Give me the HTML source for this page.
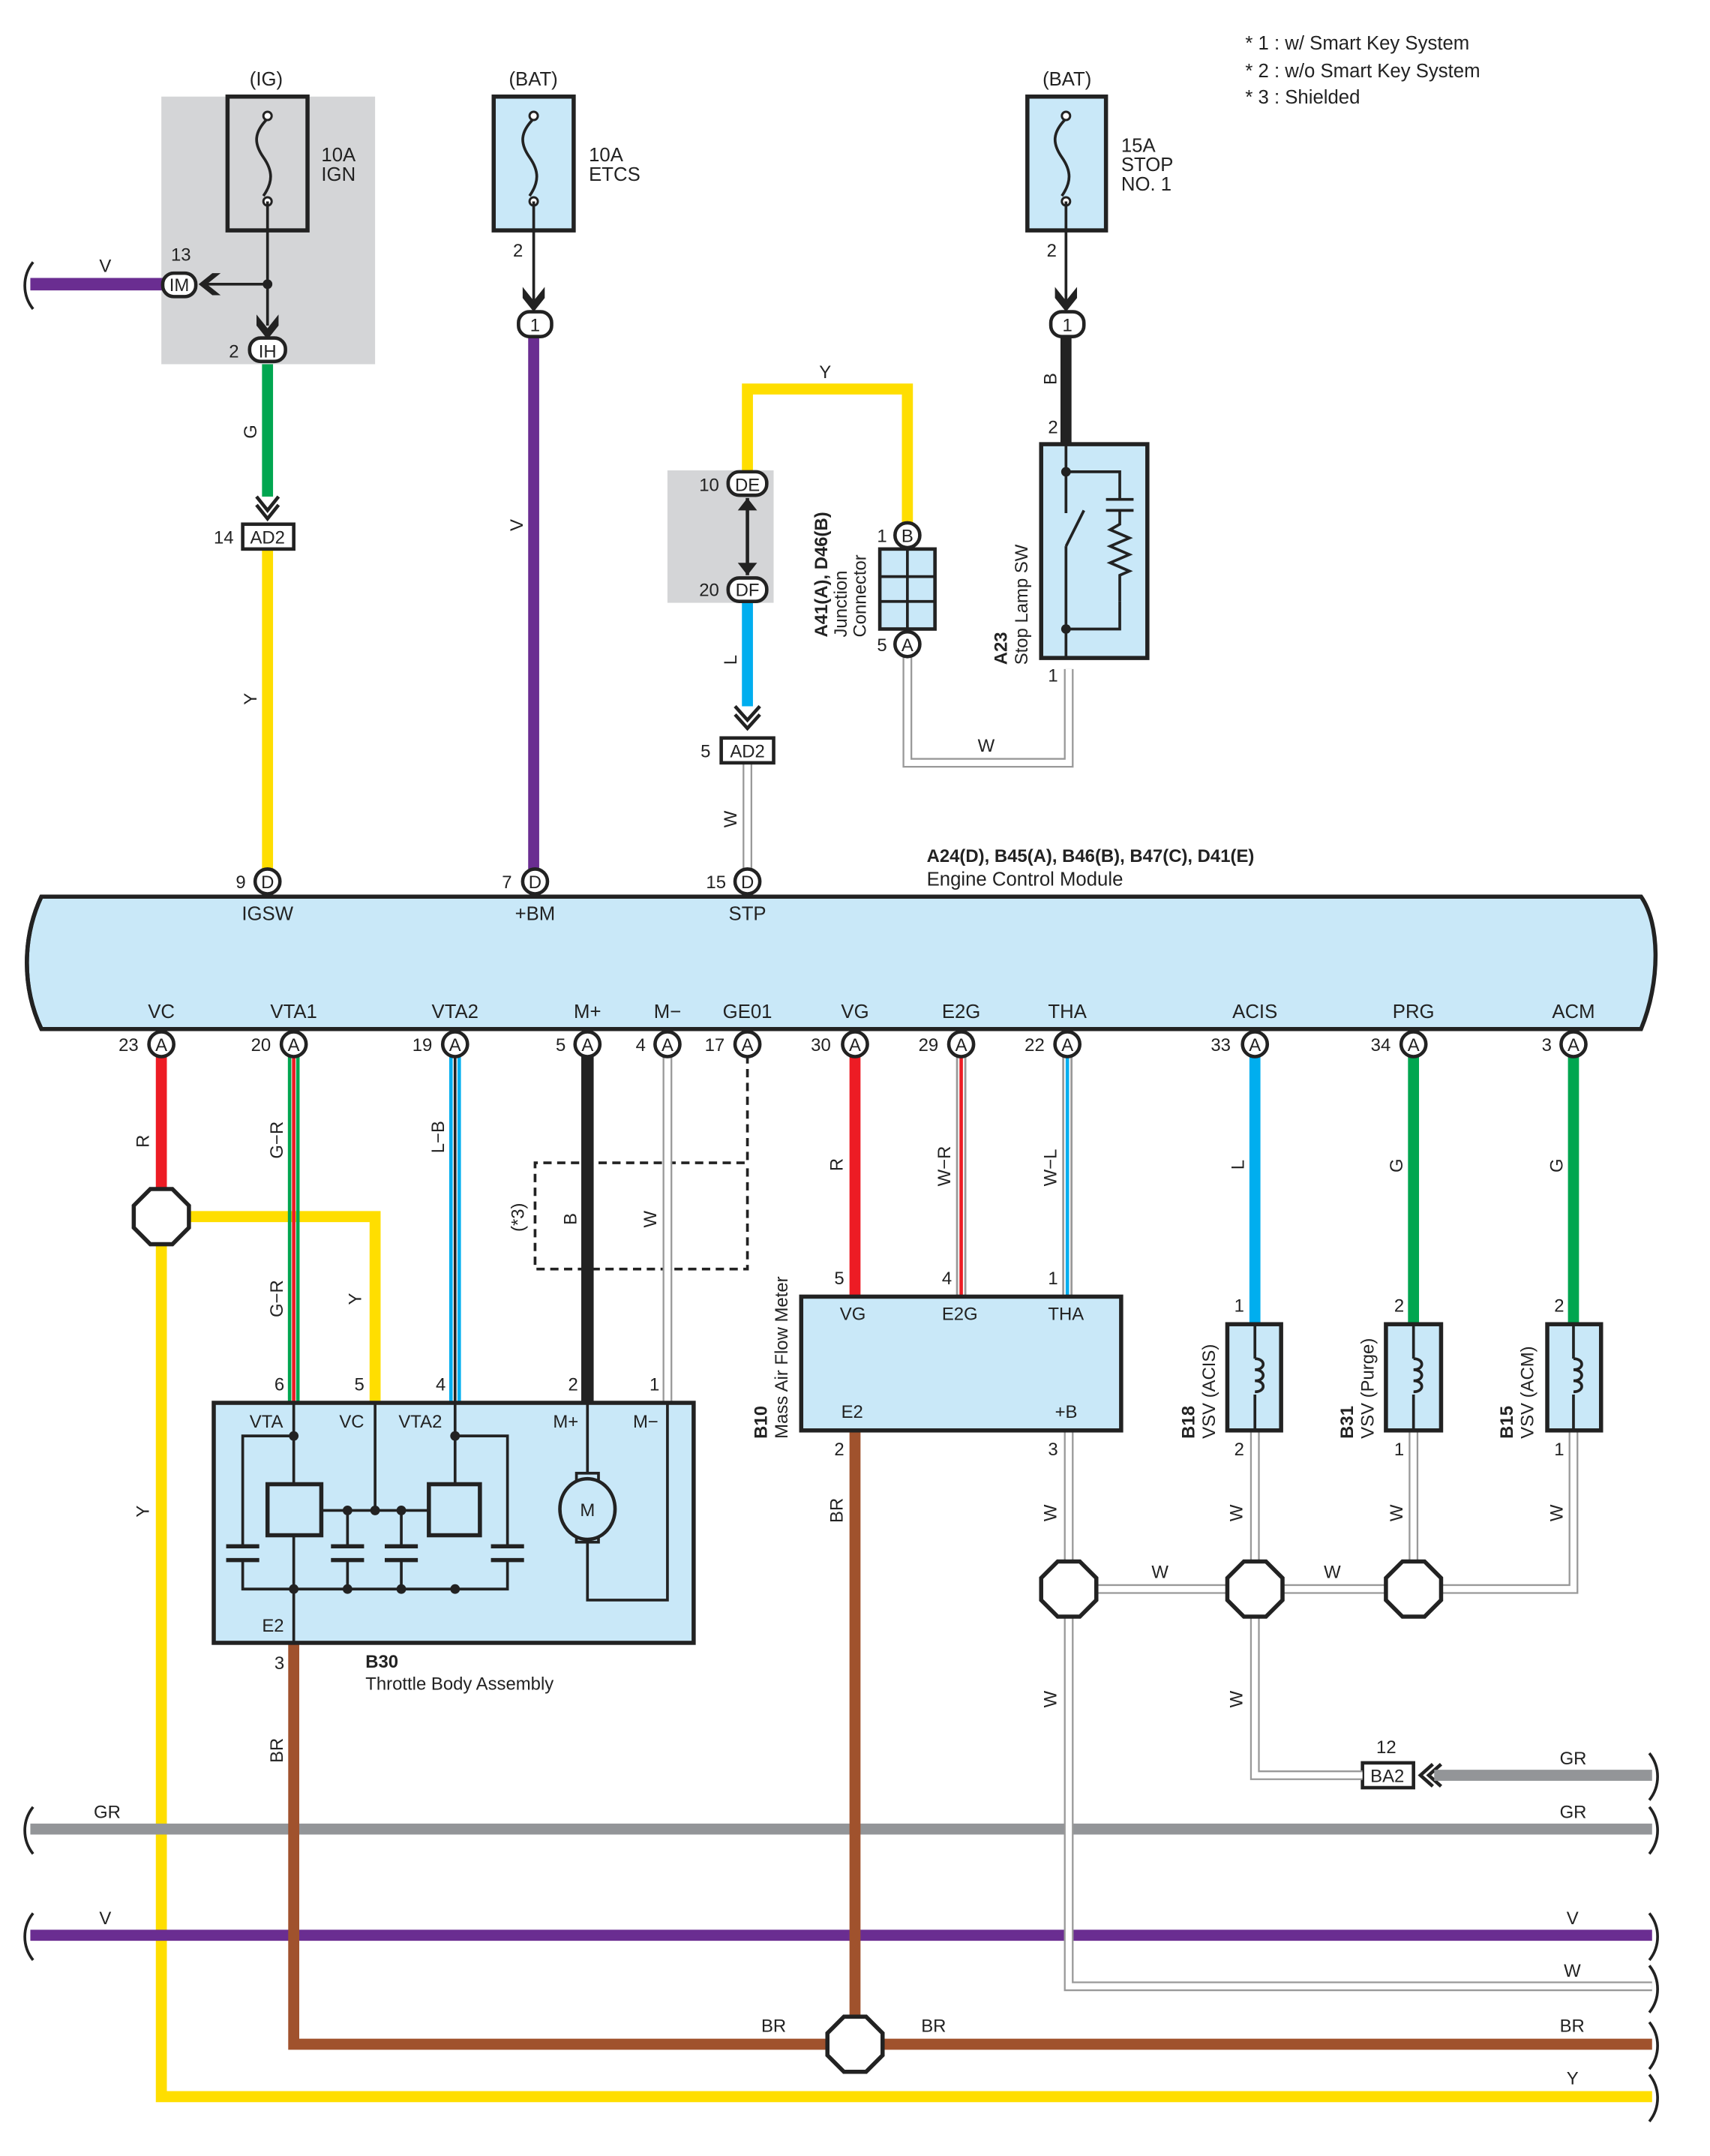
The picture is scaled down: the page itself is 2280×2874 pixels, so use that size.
<!DOCTYPE html>
<html><head><meta charset="utf-8"><style>
html,body{margin:0;padding:0;background:#fff}
svg{display:block}
text{font-family:"Liberation Sans",sans-serif;fill:#222}
</style></head><body>
<svg width="2280" height="2874" viewBox="0 0 1240 1563" xmlns="http://www.w3.org/2000/svg">
<defs>
<g id="fuse"><path d="M0,-30 c-10,10 -10,18 -3,28 c7,10 7,18 0,28" fill="none" stroke="#222" stroke-width="2"/><circle cx="0" cy="-32" r="3" fill="#fff" stroke="#222" stroke-width="1.6"/><circle cx="0" cy="30" r="3" fill="#fff" stroke="#222" stroke-width="1.6"/></g>
</defs>
<!-- grey shaded -->
<rect x="117" y="70" width="155" height="194" fill="#d4d5d7"/>
<rect x="484" y="341" width="77" height="96" fill="#d4d5d7"/>
<!-- fuses -->
<rect x="165" y="70" width="58" height="97" fill="none" stroke="#222" stroke-width="3"/>
<use href="#fuse" x="194" y="116"/>
<rect x="358" y="70" width="58" height="97" fill="#c9e8f8" stroke="#222" stroke-width="3"/>
<use href="#fuse" x="387" y="116"/>
<rect x="745" y="70" width="57" height="97" fill="#c9e8f8" stroke="#222" stroke-width="3"/>
<use href="#fuse" x="773" y="116"/>
<g font-size="14">
<text x="181" y="62">(IG)</text><text x="369" y="62">(BAT)</text><text x="756" y="62">(BAT)</text>
<text x="233" y="117">10A</text><text x="233" y="131">IGN</text>
<text x="427" y="117">10A</text><text x="427" y="131">ETCS</text>
<text x="813" y="110">15A</text><text x="813" y="124">STOP</text><text x="813" y="138">NO. 1</text>
<text x="903" y="36">* 1 : w/ Smart Key System</text>
<text x="903" y="56">* 2 : w/o Smart Key System</text>
<text x="903" y="75">* 3 : Shielded</text>
</g>
<!-- thin black lines -->
<g stroke="#222" stroke-width="2" fill="none">
<line x1="194" y1="146" x2="194" y2="236"/>
<line x1="150" y1="206" x2="194" y2="206"/>
<line x1="387" y1="146" x2="387" y2="218"/>
<line x1="773" y1="146" x2="773" y2="218"/>
</g>
<circle cx="194" cy="206" r="3.5" fill="#222"/>
<!-- arrows -->
<g fill="#222">
<path d="M186,228 l8,10 l8,-10 l0,8 l-8,10 l-8,-10z"/>
<path d="M379,208 l8,10 l8,-10 l0,8 l-8,10 l-8,-10z"/>
<path d="M765,208 l8,10 l8,-10 l0,8 l-8,10 l-8,-10z"/>
<path d="M160,198 l-10,8 l10,8 l-6,0 l-10,-8 l10,-8z"/>
</g>
<g fill="none" stroke="#222" stroke-width="2.5">
<path d="M186,360 l8,10 l8,-10 M186,366 l8,10 l8,-10"/>
<path d="M533,512 l9,10 l9,-10 M533,518 l9,10 l9,-10"/>
<path d="M1045,1279 l-9,8 l9,8 M1039,1279 l-9,8 l9,8"/>
</g>
<!-- colored wires -->
<g fill="none" stroke-linecap="butt">
<line x1="22" y1="206" x2="120" y2="206" stroke="#6a2d91" stroke-width="9"/>
<line x1="194" y1="264" x2="194" y2="360" stroke="#00a650" stroke-width="8"/>
<line x1="194" y1="398" x2="194" y2="630" stroke="#ffde00" stroke-width="8"/>
<line x1="387" y1="245" x2="387" y2="630" stroke="#6a2d91" stroke-width="8"/>
<path d="M542,341 V282 H658 V380" stroke="#ffde00" stroke-width="8"/>
<line x1="542" y1="437" x2="542" y2="512" stroke="#00aeef" stroke-width="8"/>
<line x1="773" y1="245" x2="773" y2="322" stroke="#222" stroke-width="8"/>
<line x1="542" y1="361" x2="542" y2="417" stroke="#222" stroke-width="2.5"/>
</g>
<path d="M535,370 l7,-9 l7,9z M535,408 l7,9 l7,-9z" fill="#222"/>
<!-- W wires top -->
<g fill="none">
<path d="M658,475 V553 H775 V485" stroke="#999" stroke-width="7"/>
<path d="M658,475 V553 H775 V485" stroke="#fff" stroke-width="4.5"/>
<path d="M542,553 V630" stroke="#999" stroke-width="7"/>
<path d="M542,553 V630" stroke="#fff" stroke-width="4.5"/>
</g>
<!-- junction connector -->
<rect x="638" y="398" width="40" height="58" fill="#c9e8f8" stroke="#222" stroke-width="2.5"/>
<g stroke="#222" stroke-width="2"><line x1="658" y1="398" x2="658" y2="456"/><line x1="638" y1="418" x2="678" y2="418"/><line x1="638" y1="436" x2="678" y2="436"/></g>
<!-- stop lamp sw -->
<rect x="755" y="322" width="77" height="155" fill="#c9e8f8" stroke="#222" stroke-width="3"/>
<g stroke="#222" stroke-width="2" fill="none">
<path d="M773,322 V372 M773,396 V477 M773,342 H812 V362 M773,456 H812 V436"/>
<line x1="773" y1="396" x2="786" y2="370"/>
<line x1="802" y1="362" x2="822" y2="362"/><line x1="802" y1="370" x2="822" y2="370"/>
<path d="M812,370 V380 l-7,4 l14,6 l-14,6 l14,6 l-14,6 l14,6 l-7,3 V436"/>
</g>
<circle cx="773" cy="342" r="3.5" fill="#222"/><circle cx="773" cy="456" r="3.5" fill="#222"/>
<!-- AD2 boxes -->
<rect x="176" y="380" width="37" height="18" fill="#fff" stroke="#222" stroke-width="2.5"/>
<rect x="523" y="535" width="38" height="18" fill="#fff" stroke="#222" stroke-width="2.5"/>
<rect x="988" y="1278" width="37" height="18" fill="#fff" stroke="#222" stroke-width="2.5"/>
<!-- ECM band -->
<path d="M30,650 H1190 c14,20 14,62 0,96 H30 c-14,-30 -14,-66 0,-96z" fill="#c9e8f8" stroke="#222" stroke-width="3"/>
<path d="M30,650 c-14,30 -14,66 0,96" fill="none" stroke="#222" stroke-width="3"/>
<g font-size="14">
<text x="672" y="625" font-weight="bold" font-size="13">A24(D), B45(A), B46(B), B47(C), D41(E)</text>
<text x="672" y="642">Engine Control Module</text>
<text x="194" y="667" text-anchor="middle">IGSW</text><text x="388" y="667" text-anchor="middle">+BM</text><text x="542" y="667" text-anchor="middle">STP</text>
<g text-anchor="middle">
<text x="117" y="738">VC</text><text x="213" y="738">VTA1</text><text x="330" y="738">VTA2</text><text x="426" y="738">M+</text><text x="484" y="738">M−</text><text x="542" y="738">GE01</text><text x="620" y="738">VG</text><text x="697" y="738">E2G</text><text x="774" y="738">THA</text><text x="910" y="738">ACIS</text><text x="1025" y="738">PRG</text><text x="1141" y="738">ACM</text>
</g>
</g>
<!-- lower wires -->
<g fill="none">
<line x1="117" y1="765" x2="117" y2="862" stroke="#ed1c24" stroke-width="8"/>
<path d="M137,882 H272 V1017" stroke="#ffde00" stroke-width="8"/>
<path d="M117,902 V1520 H1198" stroke="#ffde00" stroke-width="8"/>
<line x1="210" y1="765" x2="210" y2="1017" stroke="#00a650" stroke-width="2.5"/>
<line x1="216" y1="765" x2="216" y2="1017" stroke="#00a650" stroke-width="2.5"/>
<line x1="213" y1="765" x2="213" y2="1017" stroke="#ed1c24" stroke-width="2.5"/>
<line x1="327" y1="765" x2="327" y2="1017" stroke="#00aeef" stroke-width="2.5"/>
<line x1="333" y1="765" x2="333" y2="1017" stroke="#00aeef" stroke-width="2.5"/>
<line x1="330" y1="765" x2="330" y2="1017" stroke="#222" stroke-width="2"/>
<line x1="426" y1="765" x2="426" y2="1017" stroke="#222" stroke-width="9"/>
<line x1="620" y1="765" x2="620" y2="940" stroke="#ed1c24" stroke-width="8"/>
<line x1="694" y1="765" x2="694" y2="940" stroke="#999" stroke-width="1.5"/>
<line x1="700" y1="765" x2="700" y2="940" stroke="#999" stroke-width="1.5"/>
<line x1="697" y1="765" x2="697" y2="940" stroke="#ed1c24" stroke-width="2.5"/>
<line x1="771" y1="765" x2="771" y2="940" stroke="#999" stroke-width="1.5"/>
<line x1="777" y1="765" x2="777" y2="940" stroke="#999" stroke-width="1.5"/>
<line x1="774" y1="765" x2="774" y2="940" stroke="#00aeef" stroke-width="2.5"/>
<line x1="910" y1="765" x2="910" y2="960" stroke="#00aeef" stroke-width="8"/>
<line x1="1025" y1="765" x2="1025" y2="960" stroke="#00a650" stroke-width="8"/>
<line x1="1141" y1="765" x2="1141" y2="960" stroke="#00a650" stroke-width="8"/>
<path d="M542,765 V843 H388 V920 H542 V843" stroke="#222" stroke-width="2" stroke-dasharray="6,4"/>
<!-- buses -->
<line x1="22" y1="1326" x2="1198" y2="1326" stroke="#939598" stroke-width="8"/>
<line x1="1040" y1="1287" x2="1198" y2="1287" stroke="#939598" stroke-width="8"/>
<line x1="22" y1="1403" x2="1198" y2="1403" stroke="#6a2d91" stroke-width="8"/>
<path d="M213,1191 V1482 H1198" stroke="#a0522d" stroke-width="8"/>
<line x1="620" y1="1037" x2="620" y2="1462" stroke="#a0522d" stroke-width="8"/>
</g>
<!-- W double wires lower -->
<g fill="none" stroke="#999" stroke-width="7">
<path d="M484,765 V1017"/>
<path d="M775,1037 V1440 H1198"/>
<path d="M795,1152 H890 M930,1152 H1005 M1045,1152 H1141 V1037"/>
<path d="M910,1037 V1132 M910,1172 V1287 H988"/>
<path d="M1025,1037 V1132"/>
</g>
<g fill="none" stroke="#fff" stroke-width="4.5">
<path d="M484,765 V1017"/>
<path d="M775,1037 V1440 H1198"/>
<path d="M795,1152 H890 M930,1152 H1005 M1045,1152 H1141 V1037"/>
<path d="M910,1037 V1132 M910,1172 V1287 H988"/>
<path d="M1025,1037 V1132"/>
</g>
<!-- splices -->
<g fill="#fff" stroke="#222" stroke-width="3">
<polygon points="109,862 125,862 137,874 137,890 125,902 109,902 97,890 97,874"/>
<polygon points="612,1462 628,1462 640,1474 640,1490 628,1502 612,1502 600,1490 600,1474"/>
<polygon points="767,1132 783,1132 795,1144 795,1160 783,1172 767,1172 755,1160 755,1144"/>
<polygon points="902,1132 918,1132 930,1144 930,1160 918,1172 902,1172 890,1160 890,1144"/>
<polygon points="1017,1132 1033,1132 1045,1144 1045,1160 1033,1172 1017,1172 1005,1160 1005,1144"/>
</g>
<!-- B30 -->
<rect x="155" y="1017" width="348" height="174" fill="#c9e8f8" stroke="#222" stroke-width="3"/>
<g stroke="#222" stroke-width="2" fill="none">
<path d="M213,1017 V1191 M272,1017 V1095 M330,1017 V1095"/>
<path d="M213,1041 H176 V1152 H368 V1041 H330"/>
<path d="M233,1095 H311"/>
<path d="M252,1095 V1152 M291,1095 V1152"/>
<path d="M426,1017 V1160 H484 V1017"/>
</g>
<g fill="#c9e8f8" stroke="#222" stroke-width="3">
<rect x="194" y="1076" width="39" height="37"/><rect x="311" y="1076" width="37" height="37"/>
</g>
<g stroke="#c9e8f8" stroke-width="10">
<line x1="176" y1="1122" x2="176" y2="1130"/><line x1="252" y1="1122" x2="252" y2="1130"/><line x1="291" y1="1122" x2="291" y2="1130"/><line x1="368" y1="1122" x2="368" y2="1130"/>
</g>
<g stroke="#222" stroke-width="3">
<path d="M164,1121 H188 M164,1131 H188 M240,1121 H264 M240,1131 H264 M279,1121 H303 M279,1131 H303 M356,1121 H380 M356,1131 H380"/>
</g>
<g fill="#222"><circle cx="213" cy="1041" r="3.5"/><circle cx="330" cy="1041" r="3.5"/><circle cx="252" cy="1095" r="3.5"/><circle cx="272" cy="1095" r="3.5"/><circle cx="291" cy="1095" r="3.5"/><circle cx="213" cy="1152" r="3.5"/><circle cx="252" cy="1152" r="3.5"/><circle cx="291" cy="1152" r="3.5"/><circle cx="330" cy="1152" r="3.5"/></g>
<rect x="418" y="1068" width="16" height="50" fill="#c9e8f8" stroke="#222" stroke-width="2"/>
<ellipse cx="426" cy="1094" rx="20" ry="22" fill="#c9e8f8" stroke="#222" stroke-width="2.5"/>
<!-- MAF -->
<rect x="581" y="940" width="232" height="97" fill="#c9e8f8" stroke="#222" stroke-width="3"/>
<!-- VSVs -->
<g fill="#c9e8f8" stroke="#222" stroke-width="3">
<rect x="890" y="960" width="39" height="77"/><rect x="1005" y="960" width="40" height="77"/><rect x="1122" y="960" width="39" height="77"/>
</g>
<g stroke="#222" stroke-width="2" fill="none">
<path d="M910,960 V985 M910,1011 V1037 M1025,960 V985 M1025,1011 V1037 M1141,960 V985 M1141,1011 V1037"/>
<path d="M910,985 c8,0 8,8 0,8 c8,0 8,8 0,8 c8,0 8,8 0,8"/>
<path d="M1025,985 c8,0 8,8 0,8 c8,0 8,8 0,8 c8,0 8,8 0,8"/>
<path d="M1141,985 c8,0 8,8 0,8 c8,0 8,8 0,8 c8,0 8,8 0,8"/>
</g>
<!-- connectors -->
<g fill="#fff" stroke="#222" stroke-width="2.5">
<rect x="118" y="198" width="24" height="17" rx="8"/>
<rect x="181" y="245" width="26" height="17" rx="8"/>
<rect x="376" y="226" width="24" height="18" rx="8"/>
<rect x="762" y="226" width="24" height="18" rx="8"/>
<rect x="528" y="342" width="28" height="17" rx="8"/>
<rect x="528" y="419" width="28" height="17" rx="8"/>
<circle cx="658" cy="388" r="9"/><circle cx="658" cy="467" r="9"/>
<circle cx="194" cy="639" r="9"/><circle cx="388" cy="639" r="9"/><circle cx="542" cy="639" r="9"/>
<circle cx="117" cy="757" r="9"/><circle cx="213" cy="757" r="9"/><circle cx="330" cy="757" r="9"/><circle cx="426" cy="757" r="9"/><circle cx="484" cy="757" r="9"/><circle cx="542" cy="757" r="9"/><circle cx="620" cy="757" r="9"/><circle cx="697" cy="757" r="9"/><circle cx="774" cy="757" r="9"/><circle cx="910" cy="757" r="9"/><circle cx="1025" cy="757" r="9"/><circle cx="1141" cy="757" r="9"/>
</g>
<!-- wavy ends -->
<g fill="none" stroke="#222" stroke-width="2">
<path d="M24,190 c-8,10 -8,24 0,34"/>
<path d="M24,1310 c-8,10 -8,24 0,34"/><path d="M24,1387 c-8,10 -8,24 0,34"/>
<path d="M1196,1271 c8,10 8,24 0,34"/><path d="M1196,1310 c8,10 8,24 0,34"/><path d="M1196,1387 c8,10 8,24 0,34"/><path d="M1196,1425 c8,10 8,24 0,34"/><path d="M1196,1466 c8,10 8,24 0,34"/><path d="M1196,1504 c8,10 8,24 0,34"/>
</g>
<g font-size="13" text-anchor="middle">
<text x="130" y="211">IM</text><text x="194" y="259">IH</text><text x="388" y="240">1</text><text x="774" y="240">1</text>
<text x="542" y="356">DE</text><text x="542" y="432">DF</text>
<text x="658" y="393">B</text><text x="658" y="472">A</text>
<text x="194" y="644">D</text><text x="388" y="644">D</text><text x="542" y="644">D</text>
<text x="117" y="762">A</text><text x="213" y="762">A</text><text x="330" y="762">A</text><text x="426" y="762">A</text><text x="484" y="762">A</text><text x="542" y="762">A</text><text x="620" y="762">A</text><text x="697" y="762">A</text><text x="774" y="762">A</text><text x="910" y="762">A</text><text x="1025" y="762">A</text><text x="1141" y="762">A</text>
<text x="194" y="394">AD2</text><text x="542" y="549">AD2</text><text x="1006" y="1292">BA2</text>
<text x="426" y="1099">M</text>
</g>
<g font-size="13">
<text x="72" y="197">V</text><text x="124" y="189">13</text><text x="166" y="259">2</text>
<text x="372" y="186">2</text><text x="759" y="186">2</text>
<text x="155" y="394">14</text><text x="508" y="549">5</text>
<text x="507" y="356">10</text><text x="507" y="432">20</text>
<text x="636" y="393">1</text><text x="636" y="472">5</text>
<text x="760" y="314">2</text><text x="760" y="494">1</text>
<text x="594" y="274">Y</text><text x="709" y="545">W</text>
<text x="171" y="644">9</text><text x="364" y="644">7</text><text x="512" y="644">15</text>
<text x="86" y="762">23</text><text x="182" y="762">20</text><text x="299" y="762">19</text><text x="403" y="762">5</text><text x="461" y="762">4</text><text x="511" y="762">17</text><text x="588" y="762">30</text><text x="666" y="762">29</text><text x="743" y="762">22</text><text x="878" y="762">33</text><text x="994" y="762">34</text><text x="1118" y="762">3</text>
<text x="199" y="1008">6</text><text x="257" y="1008">5</text><text x="316" y="1008">4</text><text x="412" y="1008">2</text><text x="471" y="1008">1</text>
<text x="181" y="1035">VTA</text><text x="246" y="1035">VC</text><text x="289" y="1035">VTA2</text><text x="401" y="1035">M+</text><text x="459" y="1035">M−</text><text x="190" y="1183">E2</text>
<text x="199" y="1210">3</text>
<text x="265" y="1209" font-weight="bold">B30</text><text x="265" y="1225">Throttle Body Assembly</text>
<text x="605" y="931">5</text><text x="683" y="931">4</text><text x="760" y="931">1</text>
<text x="609" y="957">VG</text><text x="683" y="957">E2G</text><text x="760" y="957">THA</text>
<text x="610" y="1028">E2</text><text x="765" y="1028">+B</text>
<text x="605" y="1055">2</text><text x="760" y="1055">3</text>
<text x="895" y="951">1</text><text x="1011" y="951">2</text><text x="1127" y="951">2</text>
<text x="895" y="1055">2</text><text x="1011" y="1055">1</text><text x="1127" y="1055">1</text>
<text x="835" y="1144">W</text><text x="960" y="1144">W</text>
<text x="998" y="1271">12</text>
<text x="1131" y="1279">GR</text><text x="1131" y="1318">GR</text><text x="68" y="1318">GR</text>
<text x="72" y="1395">V</text><text x="1136" y="1395">V</text><text x="1134" y="1433">W</text>
<text x="552" y="1473">BR</text><text x="668" y="1473">BR</text><text x="1131" y="1473">BR</text><text x="1136" y="1511">Y</text>
</g>
<!-- rotated labels -->
<g font-size="13">
<text transform="translate(186,318) rotate(-90)">G</text>
<text transform="translate(186,511) rotate(-90)">Y</text>
<text transform="translate(379,385) rotate(-90)">V</text>
<text transform="translate(534,482) rotate(-90)">L</text>
<text transform="translate(534,600) rotate(-90)">W</text>
<text transform="translate(766,279) rotate(-90)">B</text>
<text transform="translate(108,832) rotate(-90)">R</text>
<text transform="translate(205,840) rotate(-90)">G−R</text>
<text transform="translate(205,955) rotate(-90)">G−R</text>
<text transform="translate(262,946) rotate(-90)">Y</text>
<text transform="translate(322,836) rotate(-90)">L−B</text>
<text transform="translate(418,888) rotate(-90)">B</text>
<text transform="translate(476,890) rotate(-90)">W</text>
<text transform="translate(380,893) rotate(-90)">(*3)</text>
<text transform="translate(108,1100) rotate(-90)">Y</text>
<text transform="translate(205,1278) rotate(-90)">BR</text>
<text transform="translate(611,849) rotate(-90)">R</text>
<text transform="translate(689,860) rotate(-90)">W−R</text>
<text transform="translate(766,860) rotate(-90)">W−L</text>
<text transform="translate(902,848) rotate(-90)">L</text>
<text transform="translate(1017,850) rotate(-90)">G</text>
<text transform="translate(1133,850) rotate(-90)">G</text>
<text transform="translate(611,1104) rotate(-90)">BR</text>
<text transform="translate(766,1103) rotate(-90)">W</text>
<text transform="translate(766,1238) rotate(-90)">W</text>
<text transform="translate(901,1103) rotate(-90)">W</text>
<text transform="translate(901,1238) rotate(-90)">W</text>
<text transform="translate(1017,1103) rotate(-90)">W</text>
<text transform="translate(1133,1103) rotate(-90)">W</text>
<text transform="translate(600,462) rotate(-90)" font-weight="bold">A41(A), D46(B)</text>
<text transform="translate(614,462) rotate(-90)">Junction</text>
<text transform="translate(628,462) rotate(-90)">Connector</text>
<text transform="translate(730,482) rotate(-90)" font-weight="bold">A23</text>
<text transform="translate(745,482) rotate(-90)">Stop Lamp SW</text>
<text transform="translate(556,1043) rotate(-90)" font-weight="bold">B10</text>
<text transform="translate(571,1043) rotate(-90)">Mass Air Flow Meter</text>
<text transform="translate(866,1043) rotate(-90)" font-weight="bold">B18</text>
<text transform="translate(881,1043) rotate(-90)">VSV (ACIS)</text>
<text transform="translate(981,1043) rotate(-90)" font-weight="bold">B31</text>
<text transform="translate(996,1043) rotate(-90)">VSV (Purge)</text>
<text transform="translate(1097,1043) rotate(-90)" font-weight="bold">B15</text>
<text transform="translate(1112,1043) rotate(-90)">VSV (ACM)</text>
</g>
</svg>
</body></html>
